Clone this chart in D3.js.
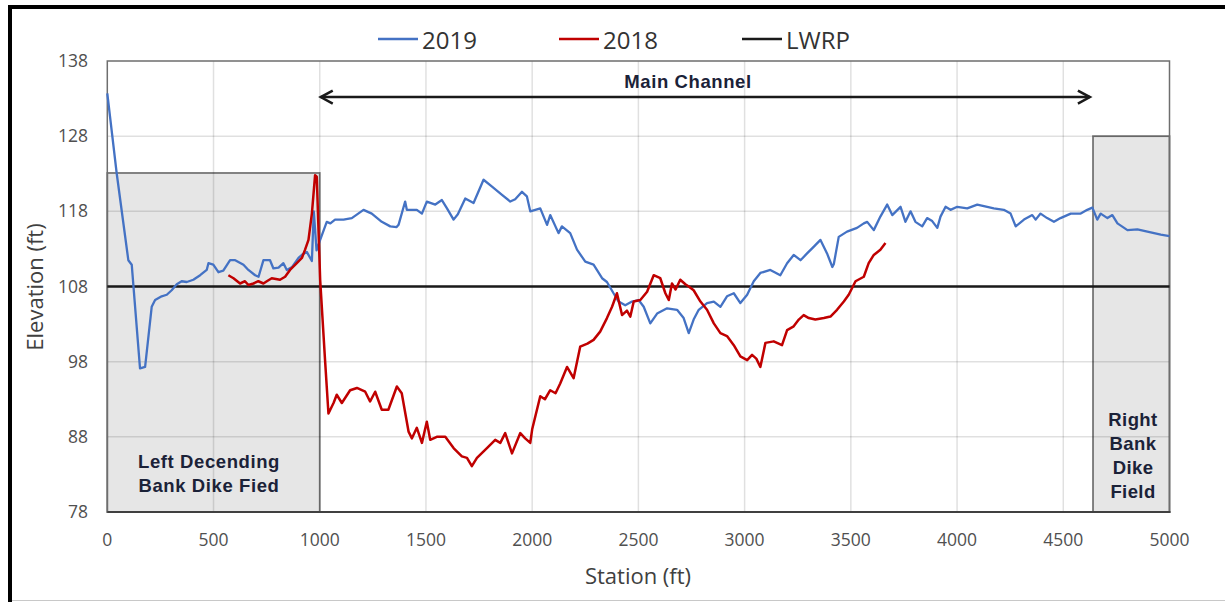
<!DOCTYPE html>
<html>
<head>
<meta charset="utf-8">
<script src="https://cdn.jsdelivr.net/npm/d3@7"></script>
<style>
  html, body { margin: 0; padding: 0; background: #fff; }
  svg { display: block; }
</style>
</head>
<body>
<svg id="chart"></svg>
<script>
// Elevation profile, 2019 vs 2018 survey, with LWRP reference

const STATION_2019 = [0, 44, 99, 115, 154, 178, 209, 225, 256, 280, 303, 327, 350, 374, 405, 437, 468, 476, 499, 523,
  546, 578, 602, 641, 664, 696, 712, 735, 766, 782, 806, 829, 845, 870, 900, 920, 939, 963, 972, 985,
  1002, 1033, 1050, 1072, 1112, 1151, 1206, 1245, 1292, 1332, 1362, 1371, 1402, 1410, 1457, 1481, 1504, 1544, 1575, 1599,
  1630, 1650, 1685, 1724, 1771, 1811, 1858, 1897, 1920, 1952, 1975, 1991, 2038, 2070, 2085, 2124, 2140, 2179, 2211, 2250,
  2289, 2329, 2352, 2383, 2407, 2438, 2470, 2501, 2525, 2556, 2588, 2635, 2682, 2713, 2737, 2760, 2784, 2823, 2855, 2886,
  2917, 2949, 2980, 3012, 3043, 3074, 3121, 3168, 3200, 3231, 3263, 3294, 3326, 3357, 3388, 3413, 3420, 3443, 3482, 3529,
  3561, 3577, 3608, 3639, 3671, 3695, 3734, 3757, 3781, 3804, 3836, 3859, 3883, 3907, 3922, 3946, 3969, 4001, 4048, 4095,
  4142, 4173, 4220, 4252, 4276, 4315, 4354, 4370, 4393, 4424, 4456, 4487, 4535, 4582, 4613, 4637, 4660, 4676, 4708, 4731,
  4755, 4802, 4849, 4896, 4959, 5000];
const ELEV_2019 = [133.7, 123.1, 111.5, 110.9, 97.1, 97.3, 105.3, 106.2, 106.7, 106.9, 107.5, 108.3, 108.7, 108.6, 108.9, 109.5, 110.2, 111.1, 110.9, 109.9,
  110.1, 111.5, 111.5, 110.9, 110.2, 109.5, 109.3, 111.5, 111.5, 110.4, 110.5, 111.1, 110.2, 110.6, 111.8, 112.3, 112.6, 111.4, 118.0, 112.8,
  114.2, 116.6, 116.4, 116.9, 116.9, 117.1, 118.2, 117.7, 116.6, 116.0, 115.9, 116.2, 119.3, 118.2, 118.2, 117.7, 119.3, 118.9, 119.5, 118.4,
  116.9, 117.6, 119.7, 119.1, 122.2, 121.3, 120.2, 119.3, 119.6, 120.6, 120.0, 118.0, 118.4, 116.2, 117.5, 115.1, 116.0, 115.1, 112.9, 111.3,
  110.9, 109.1, 108.6, 107.1, 106.0, 105.5, 106.0, 106.2, 105.3, 103.1, 104.4, 105.1, 104.9, 103.8, 101.8, 103.6, 104.9, 105.8, 106.0, 105.3,
  106.7, 107.1, 105.8, 106.9, 108.7, 109.8, 110.2, 109.5, 111.1, 112.2, 111.5, 112.4, 113.3, 114.2, 112.4, 110.6, 111.0, 114.6, 115.3, 115.8,
  116.4, 116.6, 115.5, 117.3, 118.9, 117.5, 118.6, 116.6, 118.0, 116.6, 116.0, 117.1, 116.7, 115.8, 117.3, 118.6, 118.2, 118.6, 118.4, 118.9,
  118.6, 118.4, 118.2, 117.7, 116.0, 116.9, 117.5, 116.9, 117.7, 117.1, 116.6, 117.1, 117.7, 117.7, 118.2, 118.5, 116.9, 117.7, 117.1, 117.5,
  116.4, 115.5, 115.6, 115.3, 114.9, 114.7];

const STATION_2018 = [570, 594, 625, 648, 664, 688, 711, 735, 751, 774, 813, 837, 860, 892, 916, 931, 947, 963, 978, 986,
  1002, 1025, 1041, 1065, 1080, 1104, 1143, 1175, 1214, 1237, 1261, 1292, 1323, 1363, 1386, 1418, 1434, 1457, 1481, 1504,
  1520, 1551, 1591, 1630, 1669, 1693, 1716, 1740, 1787, 1826, 1850, 1873, 1905, 1944, 1967, 1991, 2000, 2038, 2060, 2085,
  2110, 2132, 2164, 2195, 2226, 2260, 2289, 2320, 2352, 2376, 2399, 2423, 2446, 2462, 2478, 2509, 2541, 2572, 2603, 2627,
  2643, 2658, 2675, 2697, 2721, 2737, 2760, 2792, 2823, 2855, 2886, 2917, 2949, 2980, 3012, 3035, 3055, 3074, 3098, 3137,
  3176, 3200, 3231, 3255, 3278, 3302, 3333, 3373, 3404, 3435, 3467, 3490, 3522, 3561, 3584, 3608, 3639, 3663];
const ELEV_2018 = [109.5, 109.1, 108.4, 108.7, 108.2, 108.4, 108.7, 108.4, 108.7, 109.1, 108.9, 109.3, 110.2, 111.1, 111.8, 112.9, 114.2, 117.7, 122.8, 122.6,
  108.9, 98.2, 91.1, 92.5, 93.6, 92.5, 94.2, 94.5, 94.0, 92.7, 94.0, 91.6, 91.6, 94.7, 93.8, 88.7, 87.8, 89.2, 87.2, 90.0,
  87.6, 88.0, 88.0, 86.5, 85.4, 85.2, 84.1, 85.2, 86.5, 87.6, 87.2, 88.5, 85.8, 88.5, 87.8, 87.2, 89.0, 93.4, 93.0, 94.2,
  93.8, 95.1, 97.3, 95.8, 100.0, 100.4, 100.9, 102.0, 103.8, 105.3, 107.1, 104.2, 104.8, 104.0, 106.0, 106.2, 107.3, 109.5, 109.1, 107.1,
  106.2, 108.4, 107.6, 108.9, 108.3, 108.0, 107.5, 106.0, 104.9, 103.1, 101.8, 101.4, 100.2, 98.7, 98.2, 98.9, 98.4, 97.3, 100.5, 100.7,
  100.2, 102.2, 102.7, 103.6, 104.2, 103.8, 103.6, 103.8, 104.0, 104.9, 106.0, 106.9, 108.7, 109.3, 111.1, 112.2, 112.9, 113.8];

const LWRP = 108;
const X_TICKS = [0, 500, 1000, 1500, 2000, 2500, 3000, 3500, 4000, 4500, 5000];
const Y_TICKS = [78, 88, 98, 108, 118, 128, 138];
const SERIES = ['2019', '2018', 'LWRP'];

const COLOR = { '2019': '#4472c4', '2018': '#c00000', 'LWRP': '#1a1a1a' };

const W = 1225, H = 602;
const svg = d3.select('#chart').attr('width', W).attr('height', H);

const x = d3.scaleLinear().domain([0, 5000]).range([107.3, 1169.5]);
const y = d3.scaleLinear().domain([78, 138]).range([512, 61]);

const FONT = '"Open Sans", "Liberation Sans", sans-serif';
const BOLD = '"Liberation Sans", Arial, sans-serif';

// ── Outer frame ───────────────────────────────────────────────
svg.append('line').attr('x1', 8).attr('x2', W).attr('y1', 7).attr('y2', 7)
  .attr('stroke', '#000').attr('stroke-width', 4);
svg.append('line').attr('x1', 10).attr('x2', 10).attr('y1', 5).attr('y2', H)
  .attr('stroke', '#000').attr('stroke-width', 4);
svg.append('line').attr('x1', 12).attr('x2', W).attr('y1', 600.5).attr('y2', 600.5)
  .attr('stroke', '#c8c8c8').attr('stroke-width', 1);

// ── Dike field boxes (fill) ───────────────────────────────────
const boxes = [
  { x0: 0, x1: 1000, top: 123.1 },
  { x0: 4640, x1: 5000, top: 128 },
];
const boxG = svg.append('g');
boxG.selectAll('rect').data(boxes).join('rect')
  .attr('x', d => x(d.x0)).attr('y', d => y(d.top))
  .attr('width', d => x(d.x1) - x(d.x0)).attr('height', d => y(78) - y(d.top))
  .attr('fill', '#e6e6e6');

// ── Gridlines ────────────────────────────────────────────────
const gridG = svg.append('g');
gridG.selectAll('.vg').data(X_TICKS.slice(1, -1)).join('line')
  .attr('x1', d => x(d)).attr('x2', d => x(d))
  .attr('y1', y(138)).attr('y2', y(78))
  .attr('stroke', 'rgba(0,0,0,0.12)').attr('stroke-width', 1.5);
gridG.selectAll('.hg').data(Y_TICKS.slice(1, -1)).join('line')
  .attr('x1', x(0)).attr('x2', x(5000))
  .attr('y1', d => y(d)).attr('y2', d => y(d))
  .attr('stroke', 'rgba(0,0,0,0.12)').attr('stroke-width', 1.5);

// plot border
svg.append('rect')
  .attr('x', x(0)).attr('y', y(138))
  .attr('width', x(5000) - x(0)).attr('height', y(78) - y(138))
  .attr('fill', 'none').attr('stroke', '#6e6e6e').attr('stroke-width', 1.5);

boxG.selectAll('.bx').data(boxes).join('rect')
  .attr('x', d => x(d.x0)).attr('y', d => y(d.top))
  .attr('width', d => x(d.x1) - x(d.x0)).attr('height', d => y(78) - y(d.top))
  .attr('fill', 'none').attr('stroke', '#767676').attr('stroke-width', 1.8);

// bottom axis line
svg.append('line')
  .attr('x1', x(0)).attr('x2', x(5000) + 1).attr('y1', y(78)).attr('y2', y(78))
  .attr('stroke', '#404040').attr('stroke-width', 2.2);

// ── Tick labels ──────────────────────────────────────────────
svg.append('g').selectAll('text').data(X_TICKS).join('text')
  .attr('x', d => x(d)).attr('y', 546)
  .attr('text-anchor', 'middle')
  .attr('font-family', FONT).attr('font-size', 17.5).attr('fill', '#505050')
  .text(d => d);
svg.append('g').selectAll('text').data(Y_TICKS).join('text')
  .attr('x', 88).attr('y', d => y(d) + 6)
  .attr('text-anchor', 'end')
  .attr('font-family', FONT).attr('font-size', 17.5).attr('fill', '#505050')
  .text(d => d);

// ── Axis titles ──────────────────────────────────────────────
svg.append('text')
  .attr('x', 638).attr('y', 584)
  .attr('text-anchor', 'middle')
  .attr('font-family', FONT).attr('font-size', 22).attr('fill', '#404040')
  .text('Station (ft)');
svg.append('text')
  .attr('transform', 'translate(43, 287) rotate(-90)')
  .attr('text-anchor', 'middle')
  .attr('font-family', FONT).attr('font-size', 22).attr('fill', '#404040')
  .text('Elevation (ft)');

// ── Lines ────────────────────────────────────────────────────
const line = d3.line().x(d => x(d[0])).y(d => y(d[1]));

svg.append('path')
  .datum([[0, LWRP], [5000, LWRP]])
  .attr('d', line)
  .attr('fill', 'none').attr('stroke', COLOR.LWRP).attr('stroke-width', 2.5);

svg.append('path')
  .datum(STATION_2019.map((s, i) => [s, ELEV_2019[i]]))
  .attr('d', line)
  .attr('fill', 'none').attr('stroke', COLOR['2019']).attr('stroke-width', 2.3)
  .attr('stroke-linejoin', 'round');

svg.append('path')
  .datum(STATION_2018.map((s, i) => [s, ELEV_2018[i]]))
  .attr('d', line)
  .attr('fill', 'none').attr('stroke', COLOR['2018']).attr('stroke-width', 2.5)
  .attr('stroke-linejoin', 'round');

// ── Main channel arrow ──────────────────────────────────────
const arrowY = y(133.2);
const ax0 = x(1000), ax1 = x(4630);
svg.append('line')
  .attr('x1', ax0 + 1).attr('x2', ax1 - 1).attr('y1', arrowY).attr('y2', arrowY)
  .attr('stroke', '#1a1a1a').attr('stroke-width', 2.5);
svg.append('path')
  .attr('d', `M${ax0 + 13},${arrowY - 6.5} L${ax0 + 1},${arrowY} L${ax0 + 13},${arrowY + 6.5}`)
  .attr('fill', 'none').attr('stroke', '#1a1a1a').attr('stroke-width', 2.5);
svg.append('path')
  .attr('d', `M${ax1 - 13},${arrowY - 6.5} L${ax1 - 1},${arrowY} L${ax1 - 13},${arrowY + 6.5}`)
  .attr('fill', 'none').attr('stroke', '#1a1a1a').attr('stroke-width', 2.5);

// ── Region labels ───────────────────────────────────────────
const LABEL_COLOR = '#1b2238';
svg.append('text')
  .attr('x', 688).attr('y', 88)
  .attr('text-anchor', 'middle')
  .attr('font-family', BOLD).attr('font-weight', 'bold').attr('font-size', 18.5)
  .attr('letter-spacing', 0.6)
  .attr('fill', LABEL_COLOR)
  .text('Main Channel');

svg.append('g').selectAll('text').data(['Left Decending', 'Bank Dike Fied']).join('text')
  .attr('x', 209).attr('y', (d, i) => 468 + i * 24)
  .attr('text-anchor', 'middle')
  .attr('font-family', BOLD).attr('font-weight', 'bold').attr('font-size', 18.5)
  .attr('letter-spacing', 0.6)
  .attr('fill', LABEL_COLOR)
  .text(d => d);

svg.append('g').selectAll('text').data(['Right', 'Bank', 'Dike', 'Field']).join('text')
  .attr('x', 1133).attr('y', (d, i) => 426 + i * 24)
  .attr('text-anchor', 'middle')
  .attr('font-family', BOLD).attr('font-weight', 'bold').attr('font-size', 18.5)
  .attr('letter-spacing', 0.4)
  .attr('fill', LABEL_COLOR)
  .text(d => d);

// ── Legend ───────────────────────────────────────────────────
const legendX = [378, 559, 742];
const legG = svg.append('g');
SERIES.forEach((name, i) => {
  legG.append('line')
    .attr('x1', legendX[i]).attr('x2', legendX[i] + 40)
    .attr('y1', 39).attr('y2', 39)
    .attr('stroke', COLOR[name]).attr('stroke-width', 2.6);
  legG.append('text')
    .attr('x', legendX[i] + 44).attr('y', 49)
    .attr('font-family', FONT).attr('font-size', 24).attr('fill', '#333')
    .text(name);
});
</script>
</body>
</html>
